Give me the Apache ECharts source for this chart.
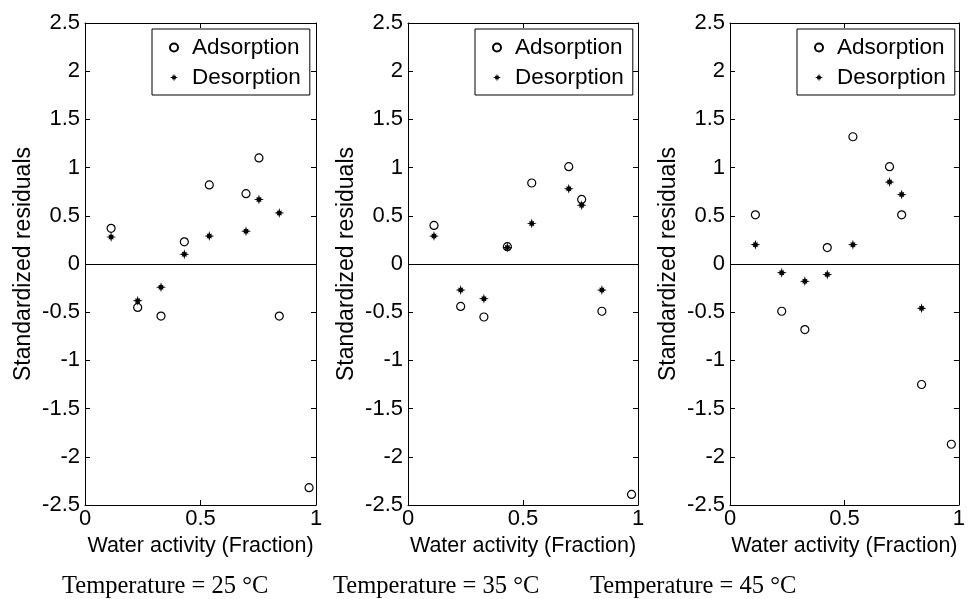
<!DOCTYPE html>
<html>
<head>
<meta charset="utf-8">
<script src="https://cdn.jsdelivr.net/npm/echarts@6/dist/echarts.min.js"></script>
<style>
html,body{margin:0;padding:0;background:#fff;}
#chart{width:968px;height:599px;}
</style>
</head>
<body>
<div id="chart"></div>
<script>
// ---- data ----
const aw25  = [0.113, 0.228, 0.329, 0.430, 0.538, 0.697, 0.753, 0.841, 0.970];
const ads25 = [0.37, -0.45, -0.54, 0.23, 0.82, 0.73, 1.10, -0.54, -2.32];
const des25 = [0.28, -0.38, -0.24, 0.10, 0.29, 0.34, 0.67, 0.53];

const aw35  = [0.113, 0.229, 0.330, 0.432, 0.538, 0.699, 0.755, 0.843, 0.972];
const ads35 = [0.40, -0.44, -0.55, 0.18, 0.84, 1.01, 0.67, -0.49, -2.39];
const des35 = [0.29, -0.27, -0.36, 0.17, 0.42, 0.78, 0.61, -0.27];

const aw45  = [0.111, 0.226, 0.327, 0.425, 0.537, 0.697, 0.750, 0.837, 0.967];
const ads45 = [0.51, -0.49, -0.68, 0.17, 1.32, 1.01, 0.51, -1.25, -1.87];
const des45 = [0.20, -0.09, -0.18, -0.11, 0.20, 0.85, 0.72, -0.46];

const temperatures = ['25', '35', '45'];
const xTitle = 'Water activity (Fraction)';
const yTitle = 'Standardized residuals';
const seriesNames = ['Adsorption', 'Desorption'];

const panels = [
  {aw: aw25, ads: ads25, des: des25},
  {aw: aw35, ads: ads35, des: des35},
  {aw: aw45, ads: ads45, des: des45}
];

// ---- layout ----
const gridBoxes = [
  {left: 85, width: 231},
  {left: 408, width: 230},
  {left: 730, width: 231}
];
const gridTop = 23, gridHeight = 482;
const captionLeft = [62, 333, 590];

const FONT = 'Liberation Sans, Arial, Helvetica, sans-serif';
const SERIF = 'Liberation Serif, Times New Roman, serif';
const starPath = 'path://M1,0 L0.4,0.17 L0.5,0.5 L0.17,0.4 L0,1 L-0.17,0.4 L-0.5,0.5 L-0.4,0.17 L-1,0 L-0.4,-0.17 L-0.5,-0.5 L-0.17,-0.4 L0,-1 L0.17,-0.4 L0.5,-0.5 L0.4,-0.17 Z';

const grid = [], xAxis = [], yAxis = [], series = [], legend = [], graphic = [];
const lineStyle = {color: '#000', width: 1};

panels.forEach((p, i) => {
  grid.push({left: gridBoxes[i].left, width: gridBoxes[i].width, top: gridTop, height: gridHeight, containLabel: false});
  xAxis.push({
    gridIndex: i, type: 'value', min: 0, max: 1, interval: 0.5, position: 'bottom',
    name: xTitle, nameLocation: 'middle', nameGap: 29,
    nameTextStyle: {fontFamily: FONT, fontSize: 21.5, color: '#000'},
    axisLine: {show: true, onZero: false, lineStyle},
    axisTick: {show: true, inside: true, length: 5, lineStyle},
    axisLabel: {show: true, fontFamily: FONT, fontSize: 22, color: '#000', margin: 3},
    splitLine: {show: false}
  });
  xAxis.push({
    gridIndex: i, type: 'value', min: 0, max: 1, interval: 0.5, position: 'top',
    axisLine: {show: true, onZero: false, lineStyle},
    axisTick: {show: true, inside: true, length: 5, lineStyle},
    axisLabel: {show: false}, splitLine: {show: false}
  });
  yAxis.push({
    gridIndex: i, type: 'value', min: -2.5, max: 2.5, interval: 0.5, position: 'left',
    name: yTitle, nameLocation: 'middle', nameGap: 50, nameRotate: 90,
    nameTextStyle: {fontFamily: FONT, fontSize: 23, color: '#000'},
    axisLine: {show: true, onZero: false, lineStyle},
    axisTick: {show: true, inside: true, length: 5, lineStyle},
    axisLabel: {show: true, fontFamily: FONT, fontSize: 22, color: '#000', margin: 5},
    splitLine: {show: false}
  });
  yAxis.push({
    gridIndex: i, type: 'value', min: -2.5, max: 2.5, interval: 0.5, position: 'right',
    axisLine: {show: true, onZero: false, lineStyle},
    axisTick: {show: true, inside: true, length: 5, lineStyle},
    axisLabel: {show: false}, splitLine: {show: false}
  });

  series.push({
    name: seriesNames[0], type: 'scatter', xAxisIndex: 2 * i, yAxisIndex: 2 * i,
    data: p.ads.map((v, k) => [p.aw[k], v]),
    symbol: 'circle', symbolSize: 8,
    itemStyle: {color: '#fff', borderColor: '#000', borderWidth: 1.2, opacity: 1},
    emphasis: {disabled: true}, z: 3,
    markLine: {
      silent: true, symbol: 'none', animation: false,
      label: {show: false},
      lineStyle: {color: '#000', width: 1, type: 'solid'},
      data: [{yAxis: 0}]
    }
  });
  series.push({
    name: seriesNames[1], type: 'scatter', xAxisIndex: 2 * i, yAxisIndex: 2 * i,
    data: p.des.map((v, k) => [p.aw[k], v]),
    symbol: starPath, symbolSize: 10,
    itemStyle: {color: '#000', opacity: 1},
    emphasis: {disabled: true}, z: 4
  });

  legend.push({
    show: true, orient: 'vertical',
    left: gridBoxes[i].left + 67, top: 29,
    backgroundColor: '#fff', borderColor: '#000', borderWidth: 1,
    padding: [7, 9, 6, 17],
    itemWidth: 8, itemHeight: 8, itemGap: 7,
    selectedMode: false,
    textStyle: {fontFamily: FONT, fontSize: 22.5, color: '#000', padding: [0, 0, 0, 9], lineHeight: 22},
    data: seriesNames
  });

  graphic.push({
    type: 'text', left: captionLeft[i], top: 574,
    style: {
      text: 'Temperature = ' + temperatures[i] + ' \u00B0C',
      fontFamily: SERIF, fontSize: 24.5, fill: '#000'
    }
  });
});

const chart = echarts.init(document.getElementById('chart'), null, {renderer: 'canvas'});
chart.setOption({
  animation: false,
  backgroundColor: '#fff',
  grid, xAxis, yAxis, series, legend, graphic
});
</script>
</body>
</html>
